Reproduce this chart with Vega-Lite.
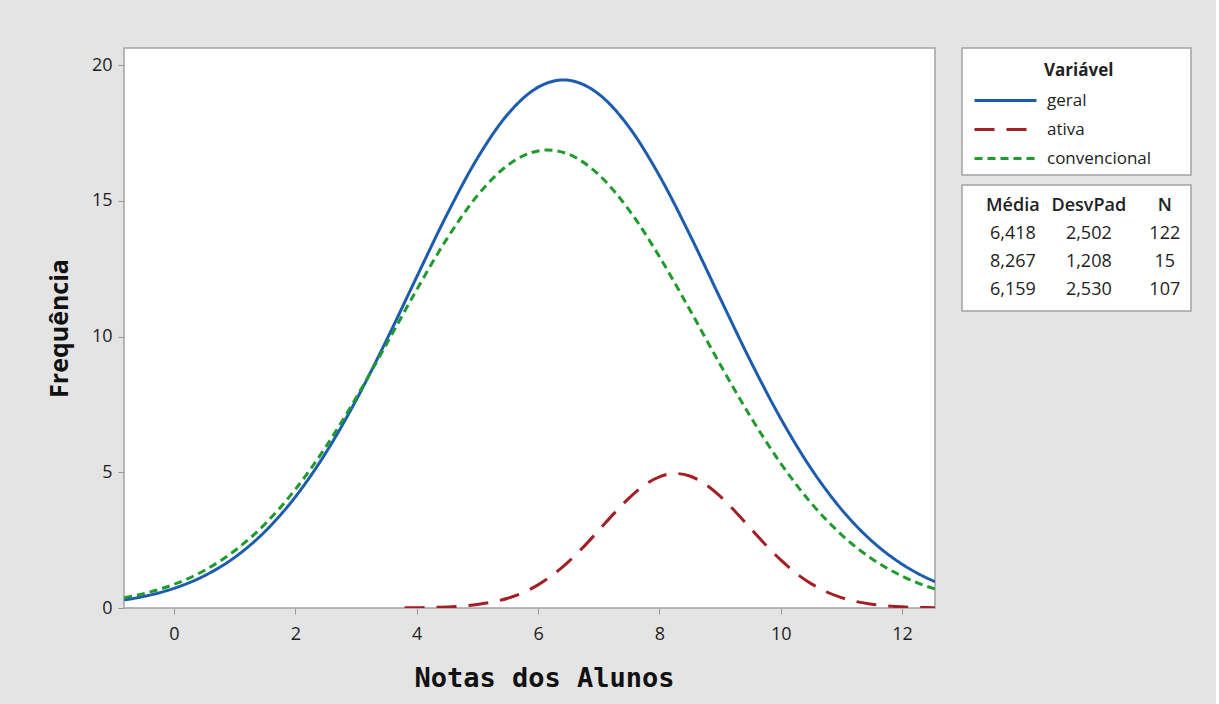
{
  "$schema": "https://vega.github.io/schema/vega-lite/v6.json",
  "background": "#e4e4e4",
  "padding": {"left": 46, "top": 47, "right": 24, "bottom": 25},
  "bounds": "flush",
  "config": {
    "font": "Open Sans",
    "view": {"stroke": "#a3a3a3", "strokeWidth": 1.5, "fill": "white"},
    "axis": {
      "domain": false,
      "grid": false,
      "tickColor": "#9a9a9a",
      "tickSize": 6,
      "labelFont": "Open Sans",
      "labelFontSize": 18,
      "labelColor": "#1e1e1e",
      "titleColor": "#111111"
    }
  },
  "datasets": {
    "curvas": [
      {"serie": "geral", "x": -0.82, "freq": 0.296},
      {"serie": "geral", "x": -0.5, "freq": 0.425},
      {"serie": "geral", "x": 0, "freq": 0.725},
      {"serie": "geral", "x": 0.5, "freq": 1.186},
      {"serie": "geral", "x": 1, "freq": 1.865},
      {"serie": "geral", "x": 1.5, "freq": 2.819},
      {"serie": "geral", "x": 2, "freq": 4.092},
      {"serie": "geral", "x": 2.5, "freq": 5.708},
      {"serie": "geral", "x": 3, "freq": 7.651},
      {"serie": "geral", "x": 3.5, "freq": 9.854},
      {"serie": "geral", "x": 4, "freq": 12.195},
      {"serie": "geral", "x": 4.5, "freq": 14.5},
      {"serie": "geral", "x": 5, "freq": 16.567},
      {"serie": "geral", "x": 5.5, "freq": 18.187},
      {"serie": "geral", "x": 6, "freq": 19.183},
      {"serie": "geral", "x": 6.418, "freq": 19.453},
      {"serie": "geral", "x": 6.5, "freq": 19.442},
      {"serie": "geral", "x": 7, "freq": 18.934},
      {"serie": "geral", "x": 7.5, "freq": 17.716},
      {"serie": "geral", "x": 8, "freq": 15.928},
      {"serie": "geral", "x": 8.5, "freq": 13.76},
      {"serie": "geral", "x": 9, "freq": 11.422},
      {"serie": "geral", "x": 9.5, "freq": 9.109},
      {"serie": "geral", "x": 10, "freq": 6.981},
      {"serie": "geral", "x": 10.5, "freq": 5.14},
      {"serie": "geral", "x": 11, "freq": 3.637},
      {"serie": "geral", "x": 11.5, "freq": 2.472},
      {"serie": "geral", "x": 12, "freq": 1.615},
      {"serie": "geral", "x": 12.5, "freq": 1.014},
      {"serie": "geral", "x": 12.55, "freq": 0.966},
      {"serie": "ativa", "x": 3.8, "freq": 0.005},
      {"serie": "ativa", "x": 4, "freq": 0.01},
      {"serie": "ativa", "x": 4.5, "freq": 0.038},
      {"serie": "ativa", "x": 5, "freq": 0.128},
      {"serie": "ativa", "x": 5.5, "freq": 0.359},
      {"serie": "ativa", "x": 5.75, "freq": 0.565},
      {"serie": "ativa", "x": 6, "freq": 0.852},
      {"serie": "ativa", "x": 6.25, "freq": 1.229},
      {"serie": "ativa", "x": 6.5, "freq": 1.7},
      {"serie": "ativa", "x": 6.75, "freq": 2.252},
      {"serie": "ativa", "x": 7, "freq": 2.858},
      {"serie": "ativa", "x": 7.25, "freq": 3.476},
      {"serie": "ativa", "x": 7.5, "freq": 4.049},
      {"serie": "ativa", "x": 7.75, "freq": 4.52},
      {"serie": "ativa", "x": 8, "freq": 4.834},
      {"serie": "ativa", "x": 8.267, "freq": 4.954},
      {"serie": "ativa", "x": 8.5, "freq": 4.863},
      {"serie": "ativa", "x": 8.75, "freq": 4.573},
      {"serie": "ativa", "x": 9, "freq": 4.121},
      {"serie": "ativa", "x": 9.25, "freq": 3.558},
      {"serie": "ativa", "x": 9.5, "freq": 2.943},
      {"serie": "ativa", "x": 9.75, "freq": 2.332},
      {"serie": "ativa", "x": 10, "freq": 1.77},
      {"serie": "ativa", "x": 10.25, "freq": 1.287},
      {"serie": "ativa", "x": 10.5, "freq": 0.897},
      {"serie": "ativa", "x": 10.75, "freq": 0.599},
      {"serie": "ativa", "x": 11, "freq": 0.383},
      {"serie": "ativa", "x": 11.5, "freq": 0.138},
      {"serie": "ativa", "x": 12, "freq": 0.042},
      {"serie": "ativa", "x": 12.5, "freq": 0.011},
      {"serie": "ativa", "x": 12.55, "freq": 0.009},
      {"serie": "convencional", "x": -0.82, "freq": 0.376},
      {"serie": "convencional", "x": -0.5, "freq": 0.528},
      {"serie": "convencional", "x": 0, "freq": 0.871},
      {"serie": "convencional", "x": 0.5, "freq": 1.383},
      {"serie": "convencional", "x": 1, "freq": 2.11},
      {"serie": "convencional", "x": 1.5, "freq": 3.096},
      {"serie": "convencional", "x": 2, "freq": 4.369},
      {"serie": "convencional", "x": 2.5, "freq": 5.929},
      {"serie": "convencional", "x": 3, "freq": 7.738},
      {"serie": "convencional", "x": 3.5, "freq": 9.712},
      {"serie": "convencional", "x": 4, "freq": 11.723},
      {"serie": "convencional", "x": 4.5, "freq": 13.608},
      {"serie": "convencional", "x": 5, "freq": 15.191},
      {"serie": "convencional", "x": 5.5, "freq": 16.309},
      {"serie": "convencional", "x": 6, "freq": 16.839},
      {"serie": "convencional", "x": 6.159, "freq": 16.872},
      {"serie": "convencional", "x": 6.5, "freq": 16.72},
      {"serie": "convencional", "x": 7, "freq": 15.965},
      {"serie": "convencional", "x": 7.5, "freq": 14.661},
      {"serie": "convencional", "x": 8, "freq": 12.947},
      {"serie": "convencional", "x": 8.5, "freq": 10.996},
      {"serie": "convencional", "x": 9, "freq": 8.981},
      {"serie": "convencional", "x": 9.5, "freq": 7.055},
      {"serie": "convencional", "x": 10, "freq": 5.329},
      {"serie": "convencional", "x": 10.5, "freq": 3.871},
      {"serie": "convencional", "x": 11, "freq": 2.704},
      {"serie": "convencional", "x": 11.5, "freq": 1.817},
      {"serie": "convencional", "x": 12, "freq": 1.174},
      {"serie": "convencional", "x": 12.5, "freq": 0.73},
      {"serie": "convencional", "x": 12.55, "freq": 0.695}
    ],
    "resumo": [
      {"serie": "geral", "Média": "6,418", "DesvPad": "2,502", "N": "122"},
      {"serie": "ativa", "Média": "8,267", "DesvPad": "1,208", "N": "15"},
      {"serie": "convencional", "Média": "6,159", "DesvPad": "2,530", "N": "107"}
    ],
    "cabecalho": [
      {"coluna": "Média"},
      {"coluna": "DesvPad"},
      {"coluna": "N"}
    ]
  },
  "resolve": {
    "scale": {"color": "independent", "strokeDash": "independent"},
    "legend": {"color": "independent", "strokeDash": "independent"}
  },
  "spacing": 27,
  "hconcat": [
    {
      "width": 811,
      "height": 560,
      "data": {"name": "curvas"},
      "mark": {"type": "line", "strokeWidth": 3, "interpolate": "monotone", "clip": true},
      "encoding": {
        "x": {
          "field": "x",
          "type": "quantitative",
          "scale": {"domain": [-0.824, 12.543], "nice": false, "zero": false},
          "axis": {
            "values": [0, 2, 4, 6, 8, 10, 12],
            "title": "Notas dos Alunos",
            "titleFont": "DejaVu Sans Mono",
            "titleFontSize": 27,
            "titleFontWeight": "bold",
            "titlePadding": 22,
            "titleX": 420,
            "labelPadding": 11
          }
        },
        "y": {
          "field": "freq",
          "type": "quantitative",
          "scale": {"domain": [0, 20.63], "nice": false},
          "axis": {
            "values": [0, 5, 10, 15, 20],
            "title": "Frequência",
            "titleFont": "Open Sans",
            "titleFontSize": 25,
            "titleFontWeight": "bold",
            "titlePadding": 19,
            "labelPadding": 6
          }
        },
        "color": {
          "field": "serie",
          "type": "nominal",
          "scale": {"domain": ["geral", "ativa", "convencional"], "range": ["#1c5cae", "#a31f24", "#1f9a2c"]},
          "legend": null
        },
        "strokeDash": {
          "field": "serie",
          "type": "nominal",
          "scale": {"domain": ["geral", "ativa", "convencional"], "range": [[1, 0], [20, 12], [8, 5]]},
          "legend": null
        }
      }
    },
    {
      "spacing": 8,
      "vconcat": [
        {
          "width": 229,
          "height": 127,
          "data": {"name": "resumo"},
          "mark": {"type": "line", "strokeWidth": 3},
          "encoding": {
            "x": {"field": "serie", "type": "nominal", "axis": null},
            "color": {
              "field": "serie",
              "type": "nominal",
              "scale": {"domain": ["geral", "ativa", "convencional"], "range": ["#1c5cae", "#a31f24", "#1f9a2c"]},
              "legend": {
                "title": "Variável",
                "orient": "none",
                "legendX": 82,
                "legendY": 15,
                "padding": 0,
                "titleFont": "Open Sans",
                "titleFontSize": 17,
                "titleFontWeight": "bold",
                "titleColor": "#222222",
                "titleAnchor": "start",
                "titlePadding": 11,
                "labelFont": "Open Sans",
                "labelFontSize": 17,
                "labelColor": "#222222",
                "symbolType": "M-3.875,0H3.875",
                "symbolSize": 256,
                "symbolStrokeWidth": 3,
                "symbolOpacity": 1,
                "symbolOffset": -48,
                "labelOffset": 32,
                "rowPadding": 11
              }
            },
            "strokeDash": {
              "field": "serie",
              "type": "nominal",
              "scale": {"domain": ["geral", "ativa", "convencional"], "range": [[1, 0], [20, 12], [8, 5]]}
            }
          }
        },
        {
          "width": 229,
          "height": 126,
          "layer": [
            {
              "data": {"name": "resumo"},
              "transform": [{"fold": ["Média", "DesvPad", "N"], "as": ["coluna", "texto"]}],
              "mark": {"type": "text", "fontSize": 18, "align": "center", "baseline": "middle", "color": "#222222"},
              "encoding": {
                "x": {"field": "coluna", "type": "nominal", "scale": {"domain": ["Média", "DesvPad", "N"], "padding": 0.507, "align": 0.66}, "axis": null},
                "y": {"field": "serie", "type": "nominal", "scale": {"domain": ["cabeçalho", "geral", "ativa", "convencional"], "padding": 0.73}, "axis": null},
                "text": {"field": "texto"}
              }
            },
            {
              "data": {"name": "cabecalho"},
              "mark": {"type": "text", "fontSize": 18, "fontWeight": 600, "align": "center", "baseline": "middle", "color": "#222222"},
              "encoding": {
                "x": {"field": "coluna", "type": "nominal", "axis": null},
                "y": {"datum": "cabeçalho", "type": "nominal"},
                "text": {"field": "coluna"}
              }
            }
          ]
        }
      ]
    }
  ]
}
